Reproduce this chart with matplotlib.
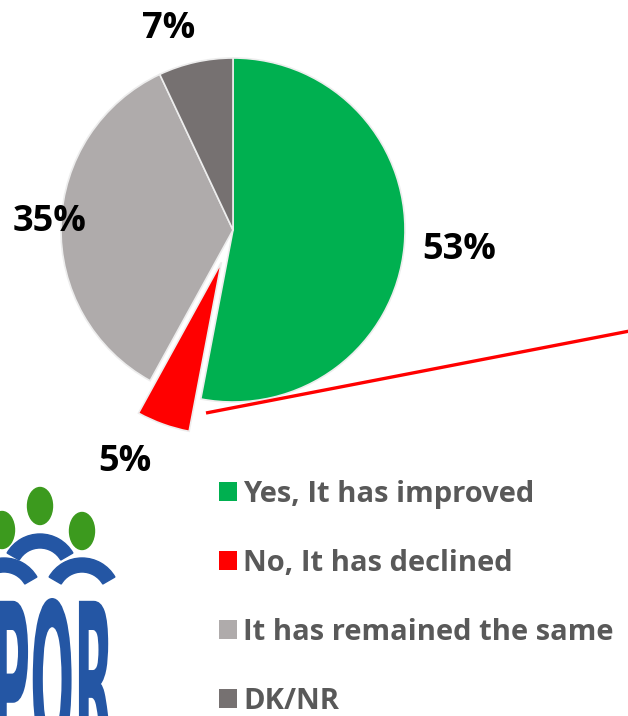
import numpy as np
import matplotlib
matplotlib.use("Agg")
import matplotlib.pyplot as plt
from matplotlib.patches import Ellipse, Wedge, PathPatch
from matplotlib.textpath import TextPath
from matplotlib.font_manager import FontProperties
from matplotlib.transforms import Affine2D

# data
categories = ["Yes, It has improved", "No, It has declined",
              "It has remained the same", "DK/NR"]
values = [53, 5, 35, 7]
pct_labels = ["53%", "5%", "35%", "7%"]

colors = ["#00B050", "#FF0000", "#AFABAB", "#767171"]
explode = [0, 0.2, 0, 0]
# label placement (radial distance from wedge centre, angle nudge in degrees)
label_dist = [1.32, 1.29, 1.07, 1.23]
label_nudge = [0.4, -6.0, -0.7, 5.2]

FONT = "Open Sans"

W, H = 628, 716
fig = plt.figure(figsize=(W / 100, H / 100), dpi=100)

# pie axes: centre (233, 230) px, radius 172 px
cx, cy, R, k = 233, 230, 172, 1.6
ax = fig.add_axes([(cx - k * R) / W, (H - cy - k * R) / H, 2 * k * R / W, 2 * k * R / H])
wedges, _ = ax.pie(values, colors=colors, startangle=90, counterclock=False,
                   explode=explode,
                   wedgeprops=dict(edgecolor="#EDEDED", linewidth=1.2))
ax.set_xlim(-k, k)
ax.set_ylim(-k, k)

for w, txt, d, nd in zip(wedges, pct_labels, label_dist, label_nudge):
    ang = np.deg2rad((w.theta1 + w.theta2) / 2 + nd)
    x0, y0 = w.center
    ax.text(x0 + d * np.cos(ang), y0 + d * np.sin(ang), txt,
            ha="center", va="center", fontsize=26, fontweight="bold",
            family=FONT, color="black")

# overlay axes in pixel coords (y up)
ov = fig.add_axes([0, 0, 1, 1], zorder=3)
ov.set_xlim(0, W)
ov.set_ylim(0, H)
ov.axis("off")
ov.patch.set_alpha(0)

# red connector line
ov.plot([206, 640], [H - 413, H - 329], color="#FF0000", lw=2.4,
        solid_capstyle="butt", clip_on=False)

# logo: heads, shoulders, "POR"
green = "#3C9A1E"
blue = "#2456A4"
for hx, hy in [(40, 506), (82, 531), (2, 530)]:
    ov.add_patch(Ellipse((hx, H - hy), 25, 37, color=green))
for ax_, ay_ in [(40, 572), (82, 596), (4, 596)]:
    ov.add_patch(Wedge((ax_, H - ay_), 38, 30, 150, width=14, color=blue))

tp = TextPath((0, 0), "POR", size=100,
              prop=FontProperties(family="DejaVu Sans", weight="bold"))
ext = tp.get_extents()
x0, x1, ytop, ybot = -3, 113, 598, 760
tr = (Affine2D().translate(-ext.x0, -ext.y0)
      .scale((x1 - x0) / ext.width, (ybot - ytop) / ext.height)
      .translate(x0, H - ybot))
ov.add_patch(PathPatch(tr.transform_path(tp), color=blue, lw=0))

# legend
leg = fig.legend(wedges, categories, loc="upper left",
                 bbox_to_anchor=(219 / W, 1 - 480 / H),
                 frameon=False, borderpad=0, borderaxespad=0,
                 handlelength=0.6, handleheight=0.6, handletextpad=0.22,
                 labelspacing=1.37,
                 prop=FontProperties(family=FONT, weight="bold", size=21))
for t in leg.get_texts():
    t.set_color("#595959")
for h in leg.legend_handles:
    h.set_edgecolor("none")

fig.savefig("out.png", dpi=100)
